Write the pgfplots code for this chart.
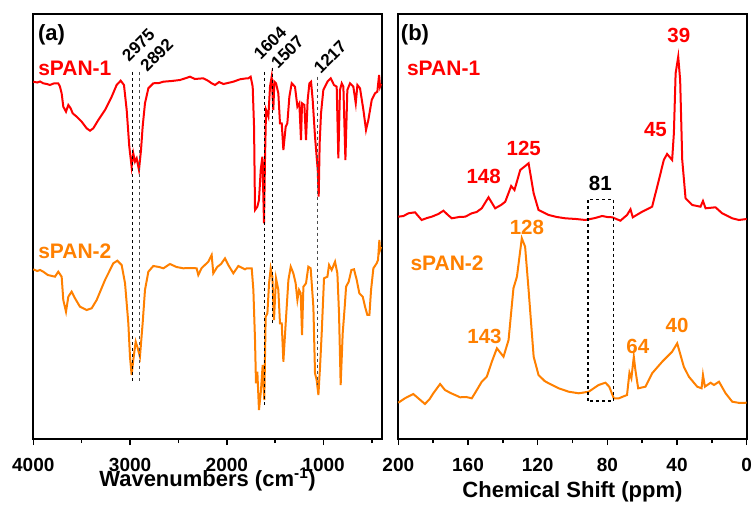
\documentclass[border=0pt]{standalone}
\usepackage{pgfplots}
\pgfplotsset{compat=1.18}
\usepackage{fontspec}
\setmainfont{Liberation Sans}
\definecolor{cRed}{RGB}{255,0,0}
\definecolor{cOrg}{RGB}{255,128,0}
\pgfplotsset{
  panel/.style={
    scale only axis, width=348.4pt, height=425pt,
    ymin=0, ymax=425, ytick=\empty,
    x dir=reverse,
    axis line style={line width=1.8pt},
    tick style={line width=1.5pt, black},
    tick align=outside,
    xtick pos=bottom,
    major tick length=6pt, minor tick length=4pt,
    /pgf/number format/assume math mode=true,
    /pgf/number format/set thousands separator={},
    xticklabel style={font=\fontsize{19}{19}\selectfont\bfseries, anchor=base, yshift=-26pt},
    x label style={font=\fontsize{22}{22}\selectfont\bfseries},
    clip=false,
  },
}
\tikzset{
  lbl/.style={font=\fontsize{20.5}{20.5}\selectfont\bfseries},
  sp/.style={font=\fontsize{21}{21}\selectfont\bfseries},
  ab/.style={font=\fontsize{22}{22}\selectfont\bfseries},
  rl/.style={font=\fontsize{17}{17}\selectfont\bfseries, rotate=45, anchor=center},
}
\begin{document}
\begin{tikzpicture}
\path[use as bounding box] (-33.3pt,-67pt) rectangle (721.7pt,439pt);
% ---------------- panel (a) ----------------
\begin{axis}[panel, at={(0pt,0pt)}, anchor=south west,
  xmin=400, xmax=4000,
  xtick={1000,2000,3000,4000}, minor xtick={500,1500,2500,3500},
  xlabel={Wavenumbers (cm\textsuperscript{-1})},
  x label style={at={(axis description cs:0.5,0)}, anchor=base, yshift=-47pt},
]
\addplot[cRed, line width=2pt] coordinates {
(4000,357.3)(3960,356.5)(3930,357.5)(3897,355.7)(3860,355)(3828,354)(3790,355.5)(3742,355.7)(3724,352.3)(3707,345.7)(3690,332.3)
(3662,327.3)(3638,334)(3614,330.7)(3593,325.7)(3552,322.3)(3500,317.3)(3449,310.7)(3414,308.3)(3380,310.7)(3328,319)(3259,329)
(3190,342.3)(3139,354)(3097,358.3)(3063,354)(3035,329)(3008,292.3)(2984,272.3)(2967,285.7)(2949,277.3)(2932,280.7)(2908,269)
(2887,289)(2870,312.3)(2846,335.7)(2811,350.7)(2760,355.7)(2700,356)(2656,357.3)(2570,358)(2484,359)(2420,361)(2381,362.3)
(2330,360)(2243,360.7)(2190,358)(2157,355.7)(2122,354)(2080,357)(2036,355)(1990,356)(1933,357.3)(1864,359.7)(1795,360.7)
(1778,360.7)(1754,362.3)(1733,352.3)(1719,312.3)(1709,229)(1685,232.3)(1668,239)(1650,269)(1633,282.3)(1616,215.7)(1606,279)
(1595,329)(1571,322.3)(1554,352.3)(1537,362.3)(1520,329)(1509,357.3)(1492,355.7)(1468,345.7)(1451,315.7)(1433,315.7)(1416,289)
(1392,312.3)(1375,315.7)(1354,342.3)(1330,355.7)(1296,352.3)(1271,332.3)(1251,335.7)(1234,299)(1223,335.7)(1199,334)(1182,299)
(1165,339)(1147,355.7)(1130,357.3)(1113,339)(1089,302.3)(1061,269)(1051,242.3)(1041,295.7)(1027,325.7)(1003,349)(961,357.3)
(927,360.7)(893,354)(865,352.3)(848,280.7)(831,349)(813,355.7)(796,352.3)(775,279)(755,349)(727,355.7)(693,352.3)(668,335.7)
(651,354)(624,350.7)(589,329)(562,309)(538,319)(503,339)(469,345.7)(445,347.3)(427,364)(417,352.3)(407,355)
};
\addplot[cOrg, line width=2pt] coordinates {
(4000,169.7)(3960,168)(3930,169)(3897,167.3)(3850,164)(3776,162.3)(3742,167.3)(3707,162.3)(3690,139)(3662,127.3)(3638,142.3)
(3604,147.3)(3569,140.7)(3518,132.3)(3449,129)(3397,130.7)(3345,139)(3259,159)(3173,175.7)(3132,178.3)(3087,174)(3052,155.7)
(3018,115.7)(3001,82.3)(2984,64)(2967,79)(2942,97.3)(2925,92.3)(2898,82.3)(2870,115.7)(2846,149)(2811,167.3)(2760,173)
(2700,172)(2656,170.7)(2588,175)(2520,172)(2450,170.7)(2380,171)(2312,170.7)(2295,164)(2260,171)(2191,177.3)(2157,184)(2140,165.7)
(2100,172)(2060,175)(2019,180.7)(1985,174)(1933,165.7)(1881,173)(1812,169.7)(1795,170.7)(1743,170.7)(1726,149)(1709,99)(1699,55.7)
(1685,67.3)(1668,29)(1647,49)(1630,74)(1613,39)(1599,122.3)(1581,125.7)(1564,155.7)(1547,170.7)(1530,162.3)(1513,119)(1492,160.7)
(1468,149)(1451,115.7)(1433,115.7)(1416,77.3)(1392,115.7)(1364,159)(1340,172.3)(1313,165.7)(1289,155.7)(1271,139)(1254,149)
(1237,145.7)(1223,104)(1209,152.3)(1182,155.7)(1158,172.3)(1134,170.7)(1106,132.3)(1089,65.7)(1072,59)(1054,44)(1037,72.3)
(1020,105.7)(996,160.7)(961,162.3)(944,174)(917,169)(882,177.3)(858,165.7)(841,125.7)(824,54)(803,105.7)(782,132.3)(768,152.3)
(741,157.3)(713,169)(686,169.7)(658,159)(631,145.7)(596,142.3)(572,132.3)(548,124)(527,124)(510,149)(486,170.7)(452,175.7)
(438,179)(424,199)(417,189)(407,192)
};
\addplot[black, dashed, line width=0.8pt] coordinates {(2977,367)(2977,57.3)};
\addplot[black!70, dashed, line width=0.8pt] coordinates {(2908,367)(2908,57.3)};
\addplot[black, dashed, line width=0.8pt] coordinates {(1613,367)(1613,34)};
\addplot[black, dashed, line width=0.8pt] coordinates {(1527,370.7)(1527,114)};
\addplot[black!70, dashed, line width=0.8pt] coordinates {(1061,362.3)(1061,54)};
\node[ab] at (axis cs:3811,404) {(a)};
\node[sp, text=cRed, anchor=west] at (axis cs:3985,371) {sPAN-1};
\node[sp, text=cOrg, anchor=west] at (axis cs:3985,187.3) {sPAN-2};
\node[rl] at (axis cs:2914,394) {2975};
\node[rl] at (axis cs:2725,384) {2892};
\node[rl] at (axis cs:1554,396) {1604};
\node[rl] at (axis cs:1375,387) {1507};
\node[rl] at (axis cs:934,382) {1217};
\end{axis}
% ---------------- panel (b) ----------------
\begin{axis}[panel, at={(365pt,0pt)}, anchor=south west,
  xmin=0, xmax=200,
  xtick={0,40,80,120,160,200}, minor xtick={20,60,100,140,180},
  xlabel={Chemical Shift (ppm)},
  x label style={at={(axis description cs:0.5,0)}, anchor=base, yshift=-58pt},
]
\addplot[cRed, line width=2pt] coordinates {
(200,222.3)(197,223)(194.2,225.7)(190.4,226.7)(186.6,219)(183.5,221)(180.8,222.3)(177,225)(174.1,228.3)(171.5,224)(169.3,220.7)
(165,222)(161.6,222.3)(157.8,225.7)(155,227)(152.1,230.7)(148.2,241.7)(144.4,230.7)(141,234)(138.6,237.3)(135.2,253)(133.3,249)
(130,269)(125.2,275.7)(122.3,245.7)(119.5,229)(116,226)(113.7,224)(109,222)(104.1,220.7)(98,220)(92.6,219)(87,221)(83,223)(80,222)
(77.2,221.7)(72.5,218.3)(68.7,224)(66.7,229.7)(65.4,221.7)(60,227.3)(54.3,232.3)(50.4,259)(47.6,279)(45.7,285)(42.8,279)
(41.8,305.7)(40.8,365.7)(39.3,382.3)(38.2,359)(37,279)(35.1,240.7)(31.3,234)(26.5,232.3)(25.1,238)(23.6,230.7)(17.9,231.7)
(14.1,225.7)(8.3,220.7)(4.5,219)(0,220)
};
\addplot[cOrg, line width=2pt] coordinates {
(200,36.3)(196.2,40.7)(191.4,45)(188.5,40.7)(184.7,35)(182,40)(179.9,45.7)(176,55)(173.2,49)(170,46)(167.4,44)(164.5,41.7)
(161,42)(157.8,40.7)(154.9,49)(152.1,57.3)(149.2,62.3)(146.3,77.3)(143.4,90.7)(139.6,82.3)(136.7,99)(133.9,150.7)(131.9,162.3)
(129.1,200.7)(127.2,192.3)(125.2,149)(122.3,82.3)(119.5,64)(116,58)(113.7,55.7)(107.9,50.7)(102.2,47.3)(96.4,45.7)(90.7,47.3)
(85,54)(81.1,56.3)(78.9,52.3)(76.3,40.7)(73.4,40.7)(68.7,44)(67.3,66.3)(66.2,60.7)(64.8,82.3)(63.9,69)(62.3,50.7)(58.1,52.3)
(54.3,65.7)(48.5,77.3)(42.8,87.3)(39.9,95.7)(38,84)(36.1,72.3)(33.2,62.3)(28.4,52.3)(25.9,50.7)(25.1,64)(24,52.3)(20.7,56.3)
(18.8,54)(15.9,57.3)(12.1,45.7)(8.3,37.3)(4,36)(0,36.3)
};
\addplot[black, dashed, line width=1.1pt] coordinates {(91.1,38)(91.1,239.7)(76.3,239.7)(76.3,38)(91.1,38)};
\node[ab] at (axis cs:190.4,404) {(b)};
\node[sp, text=cRed, anchor=west] at (axis cs:197,371) {sPAN-1};
\node[sp, text=cOrg, anchor=west] at (axis cs:195,176) {sPAN-2};
\node[lbl, text=cRed] at (axis cs:39,404) {39};
\node[lbl, text=cRed] at (axis cs:52.4,309) {45};
\node[lbl, text=cRed] at (axis cs:128,291) {125};
\node[lbl, text=cRed] at (axis cs:151,263) {148};
\node[lbl] at (axis cs:84,256) {81};
\node[lbl, text=cOrg] at (axis cs:126.2,212) {128};
\node[lbl, text=cOrg] at (axis cs:150.5,103) {143};
\node[lbl, text=cOrg] at (axis cs:62.5,92.3) {64};
\node[lbl, text=cOrg] at (axis cs:40,114) {40};
\end{axis}
\end{tikzpicture}
\end{document}
